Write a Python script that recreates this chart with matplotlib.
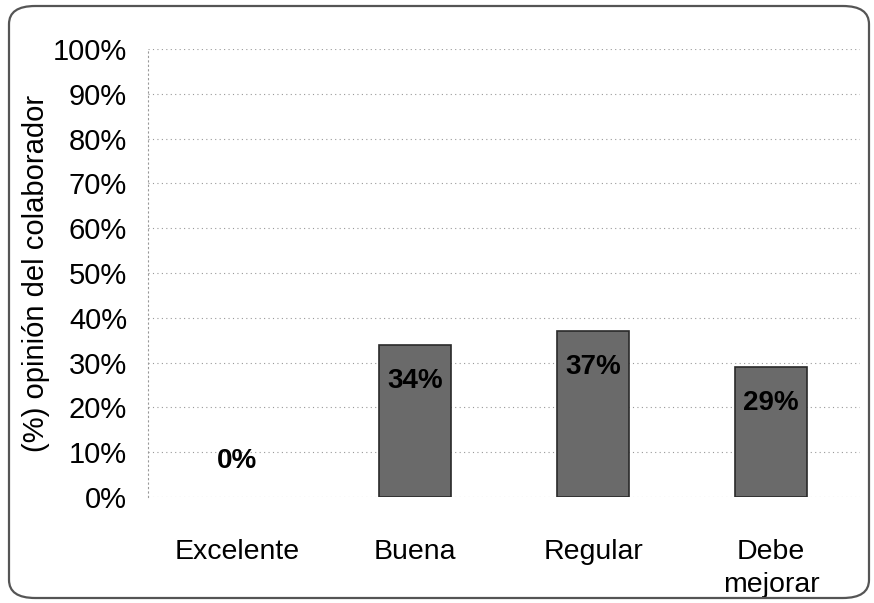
import matplotlib
matplotlib.use("Agg")
import matplotlib.pyplot as plt
from matplotlib.patches import FancyBboxPatch

categories = ["Excelente", "Buena", "Regular", "Debe\nmejorar"]
values = [0, 34, 37, 29]
labels = ["0%", "34%", "37%", "29%"]
yticks = [0, 10, 20, 30, 40, 50, 60, 70, 80, 90, 100]

plt.rcParams["font.family"] = ["Liberation Sans", "DejaVu Sans"]

fig = plt.figure(figsize=(8.74, 6.03), dpi=100)
ax = fig.add_axes([148 / 874, 1 - 497 / 603, (860 - 148) / 874, (497 - 49) / 603])

x = range(len(categories))
ax.bar(x, values, width=0.4, color="#6a6a6a", edgecolor="#2a2a2a",
       linewidth=[0 if v == 0 else 1.2 for v in values], zorder=3)

for xi, v, lab in zip(x, values, labels):
    ypos = v - 8 if v > 8 else v + 8
    ax.text(xi, ypos, lab, ha="center", va="center", fontsize=20,
            fontweight="bold", color="black", zorder=4)

ax.set_xlim(-0.5, len(categories) - 0.5)
ax.set_ylim(0, 100)
ax.set_yticks(yticks)
ax.set_yticklabels([f"{t}%" for t in yticks], fontsize=21)
ax.set_xticks(list(x))
ax.set_xticklabels(categories, fontsize=20.5, linespacing=1.35)
ax.tick_params(axis="y", length=0, pad=15)
ax.tick_params(axis="x", length=0, pad=30)

ax.yaxis.grid(True, linestyle=(0, (1, 3)), color="#999999", linewidth=0.8, zorder=0)
for s in ["top", "right", "bottom"]:
    ax.spines[s].set_visible(False)
ax.spines["left"].set_linestyle((0, (1, 3)))
ax.spines["left"].set_color("#999999")
ax.spines["left"].set_linewidth(0.8)

ax.set_ylabel("(%) opinión del colaborador", fontsize=21, labelpad=2)

frame = FancyBboxPatch((9 / 874, 5 / 603), 860 / 874, 592 / 603,
                       boxstyle="round,pad=0,rounding_size=0.03",
                       transform=fig.transFigure, fill=False,
                       edgecolor="#555555", linewidth=1.6)
fig.patches.append(frame)

fig.savefig("out.png", dpi=100, facecolor="white")
